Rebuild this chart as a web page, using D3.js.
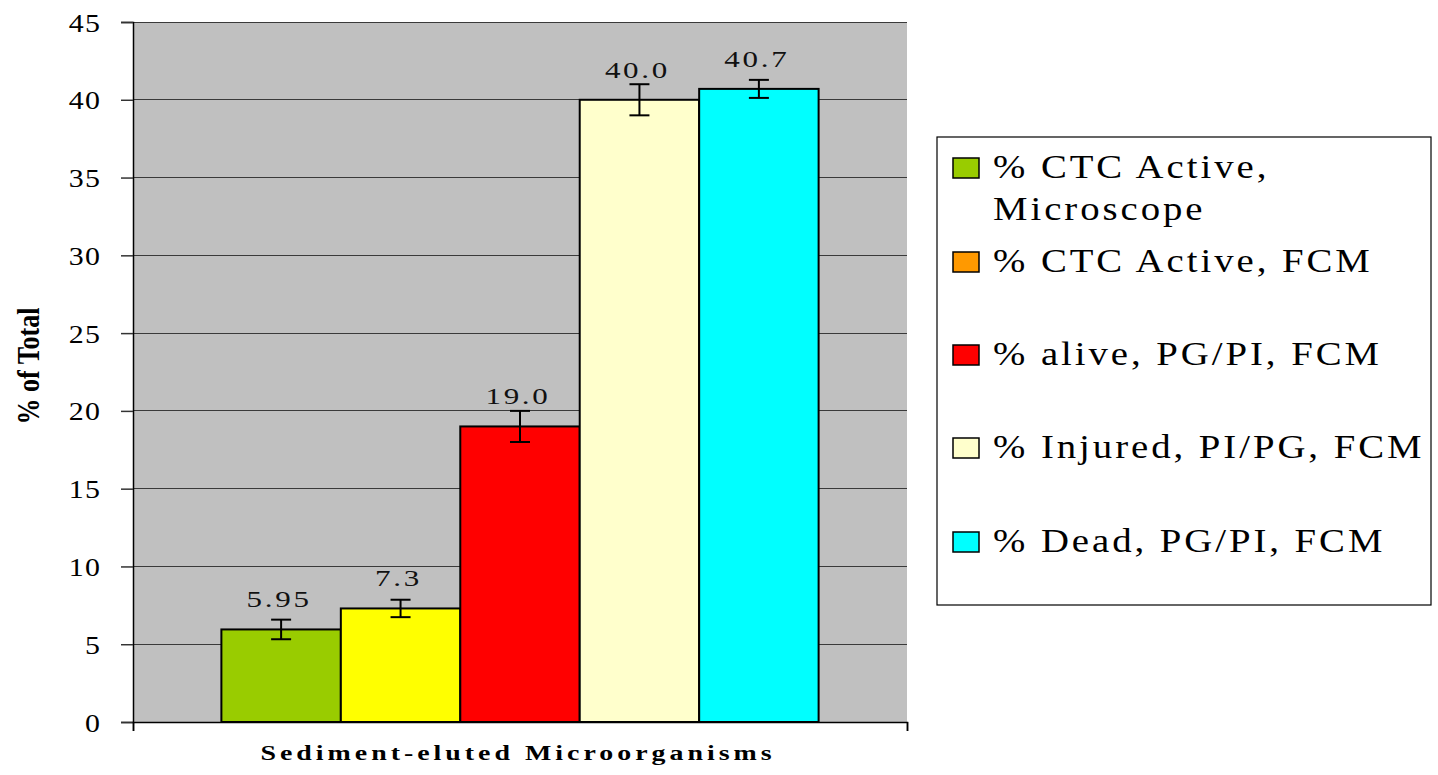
<!DOCTYPE html>
<html><head><meta charset="utf-8">
<script src="https://cdn.jsdelivr.net/npm/d3@7"></script>
<style>
body{margin:0;background:#fff;}
svg text{font-family:"Liberation Serif","Times New Roman",Times,serif !important;}
</style></head>
<body><svg id="c" width="1438" height="775"></svg>
<script>
const category = "Sediment-eluted Microorganisms";
const seriesNames = ["% CTC Active, Microscope","% CTC Active, FCM","% alive, PG/PI, FCM","% Injured, PI/PG, FCM","% Dead, PG/PI, FCM"];
const legendLines = [["% CTC Active,","Microscope"],["% CTC Active, FCM"],["% alive, PG/PI, FCM"],["% Injured, PI/PG, FCM"],["% Dead, PG/PI, FCM"]];
const values = [5.95, 7.3, 19.0, 40.0, 40.7];
const valueLabels = ["5.95","7.3","19.0","40.0","40.7"];
const errors = [0.63, 0.56, 1.0, 1.0, 0.58];
const barColors = ["#99CC00","#FFFF00","#FF0000","#FFFFCC","#00FFFF"];
const legendColors = ["#99CC00","#FF9900","#FF0000","#FFFFCC","#00FFFF"];
const yTicks = [0,5,10,15,20,25,30,35,40,45];

const svg = d3.select("#c");
const L=133, R=907, T=22, B=722;
const y = d3.scaleLinear().domain([0,45]).range([B,T]);
const xCat = d3.scaleBand().domain([category]).range([L,R]).paddingOuter(0.148).paddingInner(0);
const xs = d3.scaleBand().domain(seriesNames).range([xCat(category), xCat(category)+xCat.bandwidth()]);

// plot background
svg.append("rect").attr("x",L).attr("y",T).attr("width",R-L).attr("height",B-T).attr("fill","#C0C0C0");
// gridlines
svg.append("g").selectAll("line").data(yTicks.filter(d=>d>0)).join("line")
  .attr("x1",L).attr("x2",R).attr("y1",d=>y(d)).attr("y2",d=>y(d))
  .attr("stroke","#3a3a3a").attr("stroke-width",1).attr("shape-rendering","crispEdges");

// y axis
const yAxis = d3.axisLeft(y).tickValues(yTicks).tickSize(12).tickPadding(20).tickFormat(d3.format("d"));
const gy = svg.append("g").attr("transform",`translate(${L},0)`).call(yAxis);
gy.select(".domain").attr("stroke","#000").attr("stroke-width",1.5);
gy.selectAll(".tick line").attr("stroke","#333").attr("stroke-width",1.5);
gy.selectAll(".tick text").attr("font-size",26).attr("x",0).attr("dy","0.35em")
  .attr("fill","#000").attr("letter-spacing","1px")
  .attr("transform","translate(-32,0) scale(1.15,1)");

// bars
svg.append("g").selectAll("rect").data(values).join("rect")
  .attr("x",(d,i)=>xs(seriesNames[i])).attr("width",xs.bandwidth())
  .attr("y",d=>y(d)).attr("height",d=>B-y(d))
  .attr("fill",(d,i)=>barColors[i]).attr("stroke","#000").attr("stroke-width",2);

// error bars
const eg = svg.append("g").attr("stroke","#000").attr("stroke-width",2);
values.forEach((v,i)=>{
  const cx = xs(seriesNames[i])+xs.bandwidth()/2;
  eg.append("line").attr("x1",cx).attr("x2",cx).attr("y1",y(v+errors[i])).attr("y2",y(v-errors[i]));
  eg.append("line").attr("x1",cx-10).attr("x2",cx+10).attr("y1",y(v+errors[i])).attr("y2",y(v+errors[i]));
  eg.append("line").attr("x1",cx-10).attr("x2",cx+10).attr("y1",y(v-errors[i])).attr("y2",y(v-errors[i]));
});

// value labels
svg.append("g").selectAll("text").data(values).join("text")
  .attr("transform",(d,i)=>`translate(${xs(seriesNames[i])+xs.bandwidth()/2-2},${y(d)-22}) scale(1.35,1)`)
  .attr("text-anchor","middle").attr("font-size",23).attr("letter-spacing","2px")
  .attr("fill","#111")
  .text((d,i)=>valueLabels[i]);

// x axis
const xAxis = d3.axisBottom(d3.scaleLinear().domain([0,1]).range([L,R])).tickValues([0,1]).tickSize(9).tickFormat("");
const gx = svg.append("g").attr("transform",`translate(0,${B})`).call(xAxis);
gx.select(".domain").attr("stroke","#000").attr("stroke-width",1.5);
gx.selectAll(".tick line").attr("stroke","#000").attr("stroke-width",1.5);

// axis titles
svg.append("text").attr("transform",`translate(${(L+R)/2-2},760) scale(1.33,1)`).attr("text-anchor","middle")
  .attr("font-size",21).attr("font-weight","bold").attr("letter-spacing","3px").text(category);
svg.append("text").attr("transform",`translate(39,366) rotate(-90) scale(1,1.25)`).attr("text-anchor","middle")
  .attr("font-size",26).attr("font-weight","bold").text("% of Total");

// legend
const lg = svg.append("g");
lg.append("rect").attr("x",937).attr("y",137).attr("width",494).attr("height",468)
  .attr("fill","#fff").attr("stroke","#000").attr("stroke-width",1.2);
const baselines = [178, 272, 365, 458, 552];
seriesNames.forEach((s,i)=>{
  lg.append("rect").attr("x",953).attr("y",baselines[i]-20).attr("width",26).attr("height",20)
    .attr("fill",legendColors[i]).attr("stroke","#000").attr("stroke-width",1.5);
  const t = lg.append("text").attr("transform",`translate(993,${baselines[i]}) scale(1.14,1)`)
    .attr("font-size",34).attr("letter-spacing","2.6px");
  legendLines[i].forEach((ln,j)=>{
    t.append("tspan").attr("x",0).attr("dy",j===0?0:42).text(ln);
  });
});
</script></body></html>
